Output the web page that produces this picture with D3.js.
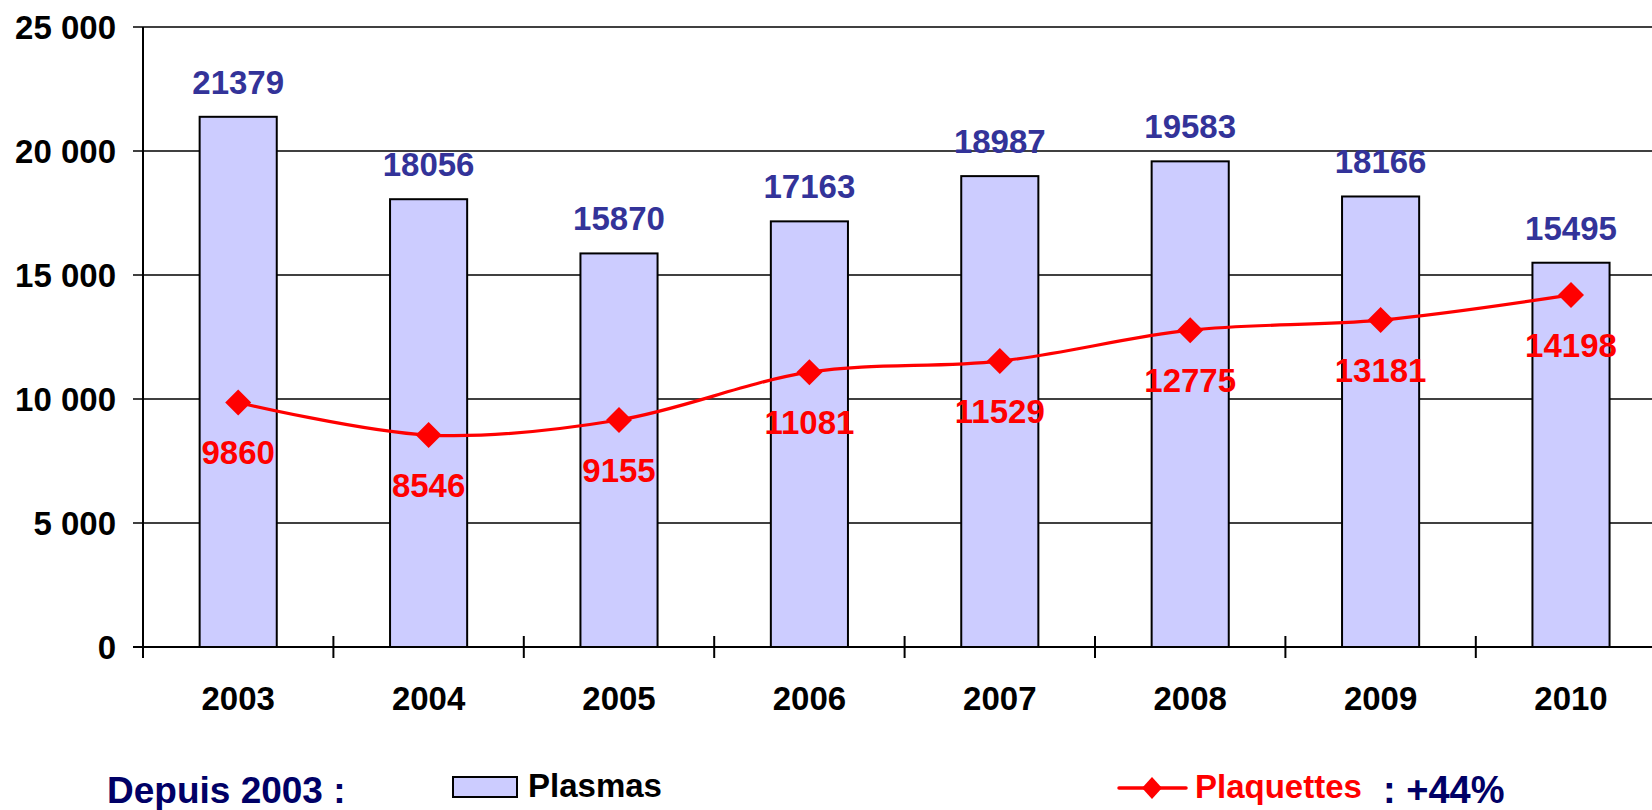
<!DOCTYPE html>
<html><head><meta charset="utf-8">
<script src="https://cdn.jsdelivr.net/npm/d3@7"></script>
<style>
html,body{margin:0;padding:0;background:#fff;overflow:hidden}
svg{display:block;font-family:"Liberation Sans",Arial,sans-serif;font-weight:bold}
</style></head><body>
<svg id="c" width="1652" height="810"></svg>
<script>
const years = ["2003","2004","2005","2006","2007","2008","2009","2010"];
const plasmas = [21379,18056,15870,17163,18987,19583,18166,15495];
const plaquettes = [9860,8546,9155,11081,11529,12775,13181,14198];
const yTicks = [0,5000,10000,15000,20000,25000];

(function(){
const svg = d3.select("#c");
const mLeft = 143, mTop = 27, mBottom = 647, step = 190.4;
const x = d3.scaleBand().domain(years).range([mLeft, mLeft + step*years.length])
  .paddingInner(0.595).paddingOuter(0.2975);
const y = d3.scaleLinear().domain([0,25000]).range([mBottom, mTop]);
const fmt = d3.formatLocale({thousands:" ", grouping:[3], decimal:","}).format(",");

// gridlines
svg.append("g").selectAll("line").data(yTicks).join("line")
  .attr("x1", mLeft-10).attr("x2", 1652)
  .attr("y1", d=>y(d)).attr("y2", d=>y(d))
  .attr("stroke","#000").attr("stroke-width",1.6);

// y labels
svg.append("g").selectAll("text").data(yTicks).join("text")
  .attr("x", 116).attr("y", d=>y(d)+12)
  .attr("text-anchor","end").attr("font-size",33).attr("fill","#000")
  .text(d=>fmt(d));

// bars
svg.append("g").selectAll("rect").data(plasmas).join("rect")
  .attr("x",(d,i)=>x(years[i])).attr("width",x.bandwidth())
  .attr("y",d=>y(d)).attr("height",d=>mBottom-y(d))
  .attr("fill","#CCCCFF").attr("stroke","#000").attr("stroke-width",2);

// y axis line
svg.append("line").attr("x1",mLeft).attr("x2",mLeft).attr("y1",mTop).attr("y2",mBottom+11)
  .attr("stroke","#000").attr("stroke-width",2);
// x axis line
svg.append("line").attr("x1",mLeft-10).attr("x2",1652).attr("y1",mBottom).attr("y2",mBottom)
  .attr("stroke","#000").attr("stroke-width",2);
// x ticks at band boundaries
svg.append("g").selectAll("line").data(d3.range(years.length+1)).join("line")
  .attr("x1",i=>x.range()[0]+i*x.step()).attr("x2",i=>x.range()[0]+i*x.step())
  .attr("y1",mBottom-11).attr("y2",mBottom+11)
  .attr("stroke","#000").attr("stroke-width",2);

// x labels
svg.append("g").selectAll("text").data(years).join("text")
  .attr("x",d=>x(d)+x.bandwidth()/2).attr("y",710)
  .attr("text-anchor","middle").attr("font-size",33).attr("fill","#000")
  .text(d=>d);

// bar value labels
svg.append("g").selectAll("text").data(plasmas).join("text")
  .attr("x",(d,i)=>x(years[i])+x.bandwidth()/2).attr("y",d=>y(d)-23)
  .attr("text-anchor","middle").attr("font-size",33).attr("fill","#333399")
  .text(d=>d);

// line
const cx = i => x(years[i]) + x.bandwidth()/2;
const line = d3.line().x((d,i)=>cx(i)).y(d=>y(d)).curve(d3.curveCatmullRom.alpha(0.5));
svg.append("path").datum(plaquettes).attr("d",line)
  .attr("fill","none").attr("stroke","#FF0000").attr("stroke-width",3.2);
const diamond = (s)=>`M0,${-s}L${s},0L0,${s}L${-s},0Z`;
svg.append("g").selectAll("path").data(plaquettes).join("path")
  .attr("transform",(d,i)=>`translate(${cx(i)},${y(d)})`)
  .attr("d",diamond(13)).attr("fill","#FF0000");
svg.append("g").selectAll("text").data(plaquettes).join("text")
  .attr("x",(d,i)=>cx(i)).attr("y",d=>y(d)+62)
  .attr("text-anchor","middle").attr("font-size",33).attr("fill","#FF0000")
  .text(d=>d);

// legend
svg.append("text").attr("x",107).attr("y",803).attr("font-size",37).attr("fill","#000066").text("Depuis 2003 :");
svg.append("rect").attr("x",453).attr("y",777).attr("width",64).attr("height",20)
  .attr("fill","#CCCCFF").attr("stroke","#000").attr("stroke-width",2);
svg.append("text").attr("x",528).attr("y",797).attr("font-size",33).attr("fill","#000").text("Plasmas");
svg.append("line").attr("x1",1119).attr("x2",1186).attr("y1",788).attr("y2",788)
  .attr("stroke","#FF0000").attr("stroke-width",3.5).attr("stroke-linecap","round");
svg.append("path").attr("transform","translate(1152,788)").attr("d","M0,-11L10,0L0,11L-10,0Z").attr("fill","#FF0000");
svg.append("text").attr("x",1195).attr("y",798).attr("font-size",33).attr("fill","#FF0000").text("Plaquettes");
svg.append("text").attr("x",1383).attr("y",803).attr("font-size",38).attr("fill","#000066").text(": +44%");
})();
</script>
</body></html>
